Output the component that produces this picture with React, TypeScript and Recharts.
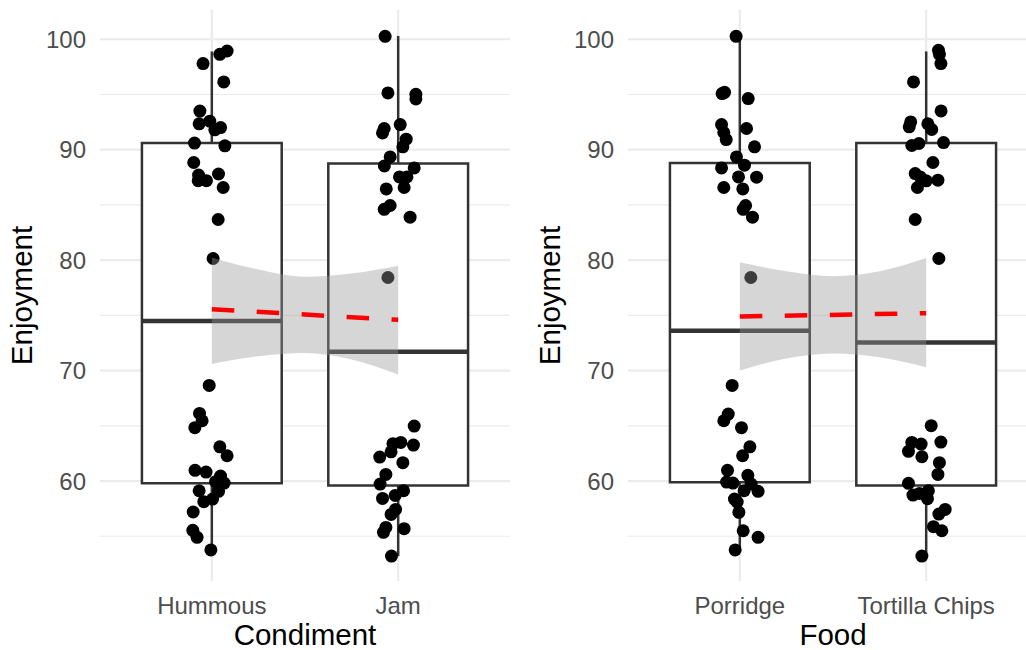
import React from 'react';
import {
  ComposedChart,
  XAxis,
  YAxis,
  CartesianGrid,
  Scatter,
  Area,
  Line,
  ReferenceArea,
  ReferenceLine,
} from 'recharts';

// ---------- categories & ticks ----------
const condimentCategories = ['Hummous', 'Jam'];
const foodCategories = ['Porridge', 'Tortilla Chips'];
const yMajorTicks = [60, 70, 80, 90, 100];
const yMinorTicks = [55, 65, 75, 85, 95];

// ---------- points: [enjoyment, horizontal jitter] ----------
const hummousPoints = [
  [98.94, 0.082], [98.64, 0.043], [97.8, -0.047], [96.14, 0.064], [93.5, -0.064],
  [92.34, -0.068], [92.58, -0.011], [92.0, 0.047], [91.8, 0.016], [90.6, -0.093],
  [90.35, 0.07], [88.84, -0.097], [87.7, -0.071], [87.2, -0.073], [87.2, -0.029],
  [87.8, 0.036], [86.58, 0.061], [83.68, 0.034], [80.15, 0.007],
  [68.66, -0.014], [66.12, -0.066], [65.46, -0.052], [64.83, -0.091], [63.1, 0.043],
  [62.29, 0.082], [60.97, -0.09], [60.81, -0.031], [60.45, 0.047], [59.94, 0.02],
  [59.82, 0.066], [59.12, -0.068], [59.07, 0.036], [58.37, 0.004], [58.13, -0.043],
  [57.2, -0.1], [55.54, -0.102], [54.9, -0.079], [53.76, -0.005],
];
const jamPoints = [
  [100.27, -0.07], [95.14, -0.055], [95.02, 0.095], [94.6, 0.095], [92.28, 0.011],
  [91.92, -0.075], [91.52, -0.084], [90.95, 0.043], [90.26, 0.025], [89.35, -0.043],
  [88.53, -0.074], [88.35, 0.086], [87.54, 0.007], [87.54, 0.047], [86.45, -0.064],
  [86.58, 0.032], [84.95, -0.043], [84.6, -0.075], [83.89, 0.064], [78.43, -0.055],
  [64.98, 0.086], [63.38, -0.028], [63.5, 0.014], [63.26, 0.082], [62.65, -0.038],
  [62.17, -0.099], [61.66, 0.025], [60.6, -0.066], [59.73, -0.097], [59.12, 0.029],
  [58.7, -0.016], [58.43, -0.084], [57.43, -0.014], [56.98, -0.038], [55.8, -0.066],
  [55.36, -0.079], [55.69, 0.032], [53.21, -0.036],
];
const porridgePoints = [
  [100.27, -0.02], [95.08, -0.095], [95.2, -0.082], [94.63, 0.045], [92.28, -0.098],
  [91.92, 0.036], [91.56, -0.086], [90.92, -0.073], [90.26, 0.079], [89.35, -0.018],
  [88.6, 0.025], [88.35, -0.098], [87.54, -0.007], [87.51, 0.09], [86.58, -0.086],
  [86.45, 0.016], [84.95, 0.031], [84.6, 0.018], [83.89, 0.068], [78.43, 0.059],
  [68.66, -0.041], [66.06, -0.062], [65.46, -0.086], [64.83, 0.009], [63.1, 0.054],
  [62.29, 0.015], [60.97, -0.066], [60.52, 0.043], [59.91, -0.071], [59.82, -0.037],
  [59.73, 0.061], [59.12, 0.023], [59.07, 0.098], [58.37, -0.029], [58.1, -0.014],
  [57.17, -0.005], [55.5, 0.018], [54.9, 0.098], [53.76, -0.025],
];
const tortillaPoints = [
  [99.0, 0.066], [98.64, 0.071], [97.8, 0.079], [96.14, -0.068], [93.51, 0.08],
  [92.52, -0.083], [92.07, -0.091], [92.34, 0.009], [91.83, 0.03], [90.38, -0.077],
  [90.56, -0.039], [90.65, 0.093], [88.84, 0.036], [87.84, -0.059], [87.54, -0.032],
  [87.18, 0.0], [87.24, 0.063], [86.58, -0.047], [83.68, -0.059], [80.15, 0.068],
  [65.01, 0.027], [63.5, -0.077], [63.35, -0.027], [63.53, 0.079], [62.69, -0.095],
  [62.2, -0.023], [61.66, 0.071], [60.6, 0.063], [59.79, -0.095], [58.73, -0.071],
  [58.88, -0.036], [59.12, 0.012], [58.4, 0.007], [57.43, 0.102], [57.01, 0.068],
  [55.87, 0.039], [55.5, 0.084], [53.21, -0.023],
];

// ---------- boxplot statistics (per category) ----------
const condimentMin = [53.8, 53.2];
const condimentQ1 = [59.8, 59.6];
const condimentMedian = [74.5, 71.7];
const condimentQ3 = [90.6, 88.75];
const condimentMax = [98.9, 100.3];

const foodMin = [53.8, 53.2];
const foodQ1 = [59.9, 59.6];
const foodMedian = [73.6, 72.55];
const foodQ3 = [88.8, 90.6];
const foodMax = [100.3, 98.9];

// ---------- linear fit + confidence band ----------
const bandX = [1, 1.25, 1.5, 1.75, 2];
const condimentBandLow = [70.6, 71.3, 71.6, 71.0, 69.65];
const condimentBandHigh = [80.25, 79.15, 78.5, 78.8, 79.5];
const condimentFitX = [1, 2];
const condimentFit = [75.55, 74.6];

const foodBandLow = [70.0, 71.1, 71.55, 71.2, 70.3];
const foodBandHigh = [79.8, 79.0, 78.55, 79.0, 80.2];
const foodFitX = [1, 2];
const foodFit = [74.9, 75.2];

const FONT = '"Liberation Sans", Arial, Helvetica, sans-serif';
const BOX_HALF = 0.375;

type PanelProps = {
  left: number;
  categories: string[];
  groups: number[][][];
  mins: number[];
  q1s: number[];
  medians: number[];
  q3s: number[];
  maxs: number[];
  bandLow: number[];
  bandHigh: number[];
  fitX: number[];
  fit: number[];
  xTitle: string;
};

const Dot = (props: any) => {
  if (props.cx == null || props.cy == null) return null;
  return <circle cx={props.cx} cy={props.cy} r={6.5} fill="#000000" />;
};

function Panel(p: PanelProps) {
  const points = p.groups.flatMap((g, i) => g.map(([v, j]) => ({ x: i + 1 + j, y: v })));
  const bandData = bandX.map((x, i) => ({ x, band: [p.bandLow[i], p.bandHigh[i]] }));
  const fitData = p.fitX.map((x, i) => ({ x, fit: p.fit[i] }));
  const catPos = p.categories.map((_, i) => i + 1);

  return (
    <div style={{ position: 'absolute', left: p.left, top: 0 }}>
      <ComposedChart
        width={520}
        height={650}
        margin={{ top: 10, right: 10, bottom: 0, left: 0 }}
        style={{ fontFamily: FONT }}
      >
        <CartesianGrid
          horizontal={true}
          vertical={false}
          horizontalValues={yMinorTicks}
          stroke="#ebebeb"
          strokeWidth={1.2}
        />
        <CartesianGrid
          horizontal={true}
          vertical={true}
          horizontalValues={yMajorTicks}
          verticalValues={catPos}
          stroke="#ebebeb"
          strokeWidth={2.2}
        />
        <XAxis
          dataKey="x"
          type="number"
          domain={[0.4, 2.6]}
          allowDataOverflow
          ticks={catPos}
          interval={0}
          tickFormatter={(v: number) => p.categories[Math.round(v) - 1] ?? ''}
          axisLine={false}
          tickLine={false}
          tickSize={0}
          tickMargin={16}
          height={69}
          tick={{ fill: '#4d4d4d', fontSize: 24, fontFamily: FONT }}
          label={{
            value: p.xTitle,
            position: 'insideBottom',
            offset: 5,
            style: { fill: '#000000', fontSize: 29.5, fontFamily: FONT },
          }}
        />
        <YAxis
          type="number"
          domain={[50.95, 102.65]}
          allowDataOverflow
          ticks={yMajorTicks}
          interval={0}
          axisLine={false}
          tickLine={false}
          tickSize={0}
          tickMargin={14}
          width={100}
          tick={{ fill: '#4d4d4d', fontSize: 24, fontFamily: FONT }}
          label={{
            value: 'Enjoyment',
            angle: -90,
            position: 'insideLeft',
            offset: 22,
            style: { fill: '#000000', fontSize: 29.5, fontFamily: FONT, textAnchor: 'middle' },
          }}
        />
        {catPos.map((c, i) => (
          <ReferenceArea
            key={'box' + i}
            x1={c - BOX_HALF}
            x2={c + BOX_HALF}
            y1={p.q1s[i]}
            y2={p.q3s[i]}
            fill="#ffffff"
            fillOpacity={1}
            stroke="#333333"
            strokeWidth={2.5}
            ifOverflow="visible"
            zIndex={10}
          />
        ))}
        {catPos.map((c, i) => (
          <ReferenceLine
            key={'wu' + i}
            segment={[{ x: c, y: p.q3s[i] }, { x: c, y: p.maxs[i] }]}
            stroke="#333333"
            strokeWidth={2.5}
            ifOverflow="visible"
            zIndex={20}
          />
        ))}
        {catPos.map((c, i) => (
          <ReferenceLine
            key={'wl' + i}
            segment={[{ x: c, y: p.mins[i] }, { x: c, y: p.q1s[i] }]}
            stroke="#333333"
            strokeWidth={2.5}
            ifOverflow="visible"
            zIndex={20}
          />
        ))}
        {catPos.map((c, i) => (
          <ReferenceLine
            key={'med' + i}
            segment={[{ x: c - BOX_HALF, y: p.medians[i] }, { x: c + BOX_HALF, y: p.medians[i] }]}
            stroke="#333333"
            strokeWidth={4.5}
            ifOverflow="visible"
            zIndex={20}
          />
        ))}
        <Scatter
          data={points}
          dataKey="y"
          shape={Dot}
          isAnimationActive={false}
          zIndex={30}
        />
        <Area
          data={bandData}
          dataKey="band"
          type="monotone"
          fill="#999999"
          fillOpacity={0.4}
          stroke="none"
          dot={false}
          activeDot={false}
          isAnimationActive={false}
          zIndex={40}
        />
        <Line
          data={fitData}
          dataKey="fit"
          type="linear"
          stroke="#ff0000"
          strokeWidth={4.5}
          strokeDasharray="22.5 22.5"
          dot={false}
          activeDot={false}
          isAnimationActive={false}
          zIndex={50}
        />
      </ComposedChart>
    </div>
  );
}

export default function App() {
  return (
    <div
      style={{
        position: 'absolute',
        left: 0,
        top: 0,
        width: 1026,
        height: 650,
        overflow: 'hidden',
        background: '#ffffff',
      }}
    >
      <Panel
        left={0}
        categories={condimentCategories}
        groups={[hummousPoints, jamPoints]}
        mins={condimentMin}
        q1s={condimentQ1}
        medians={condimentMedian}
        q3s={condimentQ3}
        maxs={condimentMax}
        bandLow={condimentBandLow}
        bandHigh={condimentBandHigh}
        fitX={condimentFitX}
        fit={condimentFit}
        xTitle="Condiment"
      />
      <Panel
        left={528}
        categories={foodCategories}
        groups={[porridgePoints, tortillaPoints]}
        mins={foodMin}
        q1s={foodQ1}
        medians={foodMedian}
        q3s={foodQ3}
        maxs={foodMax}
        bandLow={foodBandLow}
        bandHigh={foodBandHigh}
        fitX={foodFitX}
        fit={foodFit}
        xTitle="Food"
      />
    </div>
  );
}
